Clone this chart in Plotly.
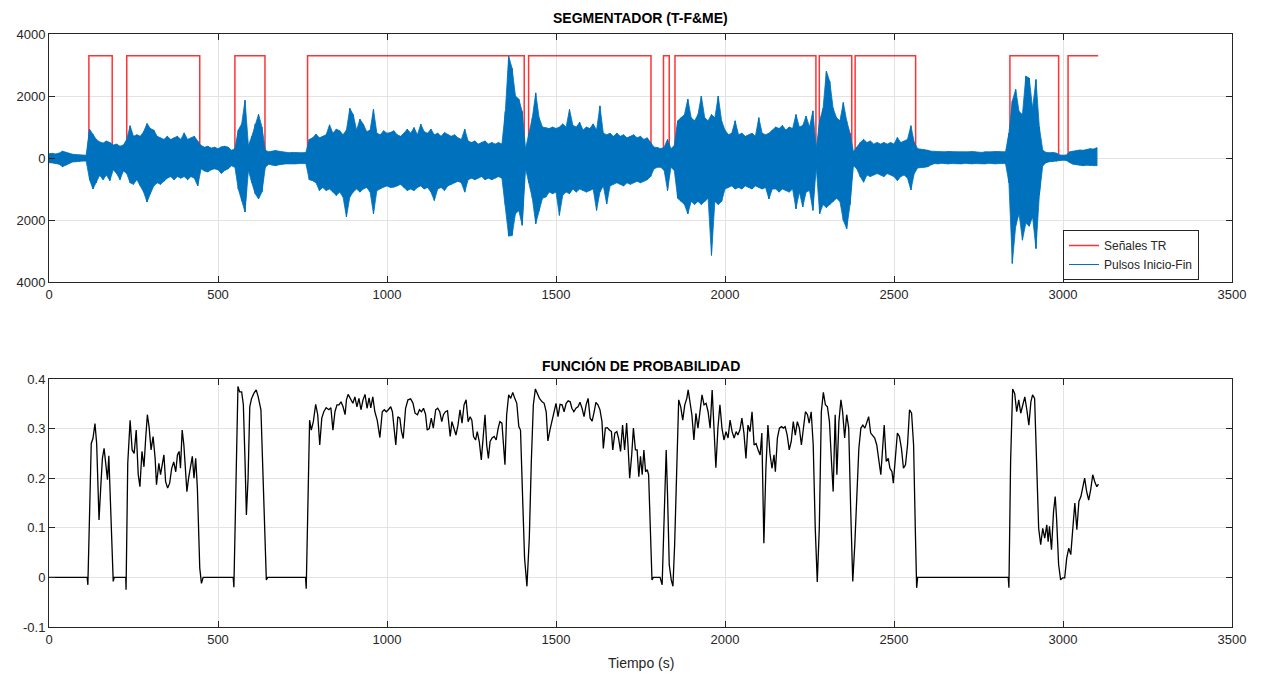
import plotly.graph_objects as go

# ---------------- data ----------------
# Red step signal "Señales TR": (time, level) break points, drawn as steps
red_t = [0, 118, 187, 230, 446, 550, 639, 765, 1406, 1419, 1781, 1818, 1835, 1852,
         2269, 2279, 2375, 2385, 2564, 2843, 2987, 3015, 3104]
red_v = [0, 3300, 0, 3300, 0, 3300, 0, 3300, 0, 3300, 0, 3300, 0, 3300,
         0, 3300, 0, 3300, 0, 3300, 0, 3300, 3300]

# Blue signal "Pulsos Inicio-Fin": upper / lower envelope read every 10 s (0..3100 s)
blue_t = list(range(0, 3101, 10))
blue_up = [
    140, 150, 130, 160, 220, 180, 140, 120, 110, 100,
    90, 90, 930, 770, 600, 520, 480, 550, 500, 420,
    450, 380, 420, 600, 1040, 700, 750, 700, 850, 1110,
    950, 900, 700, 650, 600, 700, 600, 650, 700, 600,
    810, 600, 650, 700, 550, 400, 350, 380, 320, 350,
    300, 360, 380, 350, 250, 300, 900, 1100, 1860, 400,
    700, 1100, 1410, 1000, 250, 200, 220, 240, 220, 200,
    180, 170, 180, 170, 160, 170, 180, 600, 650, 770,
    650, 700, 750, 1070, 800, 930, 880, 750, 900, 1600,
    1400, 900, 1250, 1090, 850, 900, 1570, 800, 750, 880,
    800, 820, 880, 750, 700, 800, 930, 800, 980, 750,
    1090, 850, 800, 930, 750, 800, 700, 820, 750, 700,
    750, 650, 600, 930, 550, 500, 550, 450, 500, 550,
    450, 500, 450, 500, 450, 1500, 3280, 2900, 2000, 1900,
    1500, 300, 800, 1300, 2100, 1300, 1000, 980, 950, 1000,
    950, 1000, 1100, 1000, 1570, 1050, 1000, 1150, 900, 1000,
    950, 1100, 900, 1680, 800, 750, 800, 700, 800, 700,
    750, 650, 700, 750, 650, 700, 600, 650, 500, 350,
    340, 300, 350, 600, 300, 400, 1200, 1300, 1400, 1900,
    1300, 1200, 1400, 2000, 1300, 1200, 1400, 1300, 2000, 1200,
    900, 750, 800, 1200, 750, 800, 700, 750, 800, 700,
    1300, 800, 750, 800, 900, 1000, 950, 1050, 900, 1000,
    950, 1400, 1000, 1050, 1350, 1000, 1520, 300, 1200, 1600,
    2800, 2470, 1600, 1300, 1200, 1790, 1200, 800, 200, 350,
    500, 600, 500, 550, 450, 500, 450, 500, 450, 500,
    450, 660, 500, 550, 600, 1040, 500, 300, 290, 280,
    250, 220, 210, 200, 190, 200, 210, 200, 190, 200,
    200, 190, 200, 210, 200, 190, 180, 200, 190, 200,
    210, 200, 190, 200, 800, 1840, 2215, 1500, 1400, 2640,
    2580, 1600, 2530, 1000, 250, 180, 170, 180, 160, 100,
    90, 100, 200, 220, 240, 260, 250, 280, 300, 290, 330,
]
blue_lo = [
    150, 160, 170, 200, 280, 230, 180, 130, 120, 110,
    100, 100, 700, 1000, 800, 560, 700, 550, 730, 380,
    500, 700, 420, 500, 800, 850, 700, 900, 1100, 1420,
    1150, 900, 800, 850, 750, 650, 600, 700, 600, 650,
    600, 700, 600, 650, 900, 350, 420, 450, 380, 350,
    380, 500, 400, 350, 250, 300, 1000, 1370, 1740, 400,
    800, 1150, 1320, 1100, 300, 200, 230, 250, 220, 200,
    190, 190, 180, 190, 180, 170, 180, 700, 730, 800,
    1050, 950, 1050, 1000, 1100, 1210, 1100, 1260, 1900, 1260,
    1100, 1000, 1100, 1000, 950, 1100, 1800, 1050, 1000, 940,
    900, 950, 940, 900, 850, 950, 1050, 1000, 1050, 950,
    900, 1000, 950, 1100, 1370, 1000, 950, 1050, 900, 850,
    800, 750, 800, 1100, 700, 650, 700, 650, 600, 700,
    650, 700, 650, 600, 650, 1500, 2520, 2500, 1800, 1700,
    2170, 350, 800, 1300, 2120, 1690, 1300, 1260, 1100, 1150,
    1100, 1850, 1200, 1100, 1150, 1000, 1100, 1000, 1050, 1100,
    1050, 1000, 1690, 1100, 900, 1480, 900, 850, 800, 850,
    900, 800, 850, 800, 750, 800, 750, 700, 600, 350,
    300, 300, 400, 1050, 300, 400, 1300, 1400, 1500, 1800,
    1400, 1500, 1400, 1500, 1400, 1300, 3140, 1400, 1500, 1400,
    1000, 950, 900, 1000, 950, 1000, 900, 950, 1000, 900,
    950, 1000, 950, 1320, 1000, 1000, 1100, 1000, 1050, 1100,
    1000, 1640, 1100, 1580, 1100, 1050, 1690, 300, 1800, 1500,
    1600, 1500, 1400, 1300, 1400, 2010, 2280, 1500, 250, 350,
    600, 780, 550, 600, 550, 500, 550, 600, 500, 550,
    600, 730, 600, 550, 650, 1030, 500, 320, 300, 300,
    280, 220, 180, 190, 170, 180, 190, 180, 170, 180,
    190, 170, 180, 190, 180, 170, 180, 190, 170, 180,
    190, 180, 170, 180, 800, 3400, 2200, 1800, 2650, 2100,
    2200, 1900, 2920, 1200, 250, 150, 120, 120, 110, 80,
    70, 80, 150, 200, 220, 230, 250, 230, 250, 240, 250,
]

# Black curve "FUNCIÓN DE PROBABILIDAD"
prob_t = [
    0, 113, 115, 125, 130, 136, 141, 148, 153, 158, 163, 168, 173, 177, 183, 190, 193,
    227, 228, 233, 240, 246, 252, 258, 264, 269, 275, 281, 286, 291, 296, 302, 308, 314,
    318, 325, 330, 335, 340, 345, 351, 357, 363, 369, 375, 380, 385, 389, 394, 399, 404,
    408, 413, 419, 424, 429, 434, 439, 446, 451, 456,
    545, 547, 559, 564, 570, 575, 580, 584, 589, 594, 599, 606, 613, 619, 627, 636, 643, 647,
    759, 761, 771, 776, 782, 789, 795, 801, 807, 813, 820, 828, 834, 840, 846, 852, 858, 864,
    870, 876, 880, 885, 892, 899, 905, 911, 917, 923, 929, 935, 941, 947, 952, 958, 964, 971,
    979, 986, 992, 998, 1004, 1011, 1016, 1021, 1026, 1032, 1038, 1043, 1048, 1055, 1062,
    1070, 1077, 1083, 1090, 1096, 1102, 1108, 1114, 1119, 1125, 1131, 1137, 1144, 1150, 1156,
    1162, 1167, 1173, 1179,
    1187, 1192, 1198, 1204, 1210, 1216, 1222, 1228, 1234, 1240, 1246, 1251, 1256, 1262, 1267,
    1273, 1279, 1285, 1290, 1295, 1300, 1305, 1311, 1317, 1323, 1329, 1334, 1340, 1344, 1349,
    1354, 1360, 1366, 1372, 1378, 1384, 1390, 1395, 1401, 1407, 1414, 1421, 1427, 1433, 1439,
    1445, 1451, 1459, 1465, 1471, 1476, 1482, 1488, 1494, 1500, 1506, 1512, 1518, 1524, 1530,
    1536, 1542, 1547, 1553, 1559, 1565, 1571, 1577, 1583, 1589, 1595, 1601, 1607, 1613, 1618,
    1624, 1630, 1636, 1640, 1646, 1652, 1658, 1664, 1668, 1674, 1680, 1685, 1691, 1697, 1703,
    1709, 1713, 1718, 1724, 1729, 1735, 1740, 1745, 1750, 1755, 1760, 1765, 1770, 1774, 1779,
    1784, 1788, 1808, 1814, 1820, 1826, 1830, 1835, 1841, 1846, 1851, 1857, 1863, 1869, 1875,
    1881, 1887, 1891, 1897, 1902, 1908, 1914, 1920, 1926, 1932, 1938, 1944, 1950, 1956, 1962,
    1968, 1973, 1979, 1985, 1991, 1997, 2003, 2009, 2015, 2021, 2027, 2033, 2038, 2044, 2050,
    2056, 2062, 2068, 2074, 2080, 2086, 2092, 2098, 2104, 2109, 2115, 2121, 2127, 2133, 2139,
    2145, 2149, 2155, 2161, 2167, 2173, 2178, 2184, 2190, 2196, 2202, 2208, 2214, 2220, 2226,
    2232, 2238, 2244, 2249, 2255, 2261, 2267, 2273, 2279, 2285, 2291, 2297, 2303, 2309, 2315,
    2320,
    2326, 2331, 2337, 2343, 2348, 2354, 2360, 2366, 2372, 2378, 2384, 2390, 2396, 2402, 2408,
    2414, 2419, 2425, 2431, 2437, 2443, 2449, 2455, 2461, 2467, 2471, 2477, 2483, 2488, 2494,
    2498, 2504, 2510, 2516, 2522, 2528, 2534, 2540, 2546, 2552, 2558, 2563, 2567, 2570,
    2838, 2840, 2845, 2851, 2857, 2863, 2869, 2875, 2881, 2887, 2893, 2899, 2905, 2910, 2916,
    2922, 2928, 2934, 2940, 2946, 2952, 2956, 2960, 2966, 2972, 2977, 2981, 2987, 2993, 2999,
    3005, 3011, 3017, 3023, 3029, 3035, 3041, 3047, 3053, 3058, 3064, 3070, 3076, 3082, 3088,
    3094, 3100, 3105,
]
prob_v = [
    0, 0, -0.015, 0.27, 0.28, 0.31, 0.27, 0.116, 0.18, 0.24, 0.26, 0.234, 0.197, 0.245, 0.12, -0.008, 0,
    0, -0.025, 0.23, 0.317, 0.257, 0.25, 0.297, 0.207, 0.183, 0.254, 0.223, 0.28, 0.328, 0.304, 0.257, 0.284, 0.24,
    0.187, 0.23, 0.207, 0.23, 0.247, 0.193, 0.18, 0.19, 0.22, 0.233, 0.213, 0.247, 0.254, 0.22, 0.297, 0.267, 0.21,
    0.173, 0.2, 0.227, 0.244, 0.2, 0.24, 0.18, 0.019, -0.012, 0,
    0, -0.02, 0.385, 0.374, 0.374, 0.348, 0.234, 0.126, 0.2, 0.344, 0.36, 0.371, 0.378, 0.364, 0.338, 0.133, -0.005, 0,
    0, -0.023, 0.317, 0.297, 0.314, 0.349, 0.328, 0.267, 0.321, 0.334, 0.342, 0.338, 0.342, 0.297, 0.334, 0.348, 0.348, 0.354,
    0.344, 0.328, 0.358, 0.369, 0.361, 0.351, 0.364, 0.344, 0.361, 0.338, 0.358, 0.369, 0.341, 0.362, 0.342, 0.364, 0.334, 0.317,
    0.282, 0.334, 0.338, 0.334, 0.338, 0.344, 0.334, 0.3, 0.267, 0.324, 0.321, 0.294, 0.28, 0.341, 0.358,
    0.36, 0.351, 0.331, 0.328, 0.338, 0.334, 0.341, 0.329, 0.297, 0.3, 0.321, 0.301, 0.338, 0.341, 0.334,
    0.314, 0.328, 0.334, 0.336,
    0.284, 0.314, 0.301, 0.287, 0.307, 0.338, 0.311, 0.348, 0.358, 0.314, 0.324, 0.317, 0.284, 0.277, 0.294,
    0.274, 0.237, 0.294, 0.328, 0.267, 0.24, 0.274, 0.281, 0.284, 0.277, 0.301, 0.314, 0.311, 0.267, 0.227,
    0.328, 0.368, 0.361, 0.373, 0.361, 0.351, 0.304, 0.297, 0.166, 0.039, -0.018, 0.079, 0.234, 0.348, 0.38,
    0.371, 0.361, 0.354, 0.351, 0.334, 0.275, 0.297, 0.314, 0.331, 0.351, 0.324, 0.349, 0.348, 0.334, 0.351,
    0.356, 0.354, 0.341, 0.334, 0.341, 0.344, 0.353, 0.341, 0.324, 0.348, 0.361, 0.321, 0.315, 0.334, 0.353,
    0.348, 0.338, 0.314, 0.26, 0.301, 0.302, 0.297, 0.294, 0.257, 0.291, 0.294, 0.281, 0.254, 0.307, 0.257,
    0.311, 0.267, 0.2, 0.247, 0.301, 0.257, 0.257, 0.203, 0.244, 0.207, 0.257, 0.213, 0.217, 0.207, 0.099,
    -0.005, 0, 0, -0.015, 0.119, 0.257, 0.166, 0.026, -0.005, -0.018, 0.066, 0.234, 0.358, 0.344, 0.317,
    0.348, 0.361, 0.378, 0.348, 0.328, 0.277, 0.331, 0.301, 0.334, 0.368, 0.348, 0.351, 0.334, 0.301, 0.378,
    0.294, 0.221, 0.301, 0.348, 0.301, 0.277, 0.294, 0.281, 0.317, 0.294, 0.281, 0.294, 0.287, 0.297, 0.321,
    0.291, 0.24, 0.307, 0.294, 0.334, 0.267, 0.27, 0.257, 0.247, 0.291, 0.069, 0.22, 0.307, 0.25, 0.22,
    0.247, 0.213, 0.281, 0.301, 0.304, 0.301, 0.304, 0.287, 0.257, 0.274, 0.314, 0.287, 0.314, 0.301, 0.267,
    0.304, 0.334, 0.328, 0.311, 0.334, 0.267, 0.099, -0.009, 0.099, 0.334, 0.373, 0.348, 0.344, 0.314, 0.234,
    0.173,
    0.328, 0.207, 0.314, 0.358, 0.334, 0.281, 0.328, 0.301, 0.133, -0.008, 0.066, 0.16, 0.26, 0.301, 0.307,
    0.301, 0.314, 0.324, 0.291, 0.287, 0.281, 0.267, 0.24, 0.207, 0.267, 0.307, 0.234, 0.24, 0.22, 0.213,
    0.19, 0.234, 0.291, 0.284, 0.26, 0.22, 0.227, 0.267, 0.338, 0.331, 0.267, 0.099, -0.021, 0,
    0, -0.021, 0.234, 0.38, 0.371, 0.334, 0.358, 0.331, 0.348, 0.364, 0.338, 0.307, 0.354, 0.368, 0.361,
    0.234, 0.099, 0.066, 0.099, 0.079, 0.106, 0.072, 0.103, 0.056, 0.133, 0.163, 0.119, 0.026, -0.005, -0.001,
    -0.001, 0.039, 0.059, 0.046, 0.099, 0.15, 0.096, 0.153, 0.163, 0.18, 0.2, 0.173, 0.156, 0.177, 0.207,
    0.193, 0.183, 0.188,
]

x_ticks = [0, 500, 1000, 1500, 2000, 2500, 3000, 3500]
x_ticktext = ["0", "500", "1000", "1500", "2000", "2500", "3000", "3500"]
y1_ticks = [-4000, -2000, 0, 2000, 4000]
y1_ticktext = ["4000", "2000", "0", "2000", "4000"]  # minus signs are cut off in the original
y2_ticks = [-0.1, 0, 0.1, 0.2, 0.3, 0.4]
y2_ticktext = ["-0.1", "0", "0.1", "0.2", "0.3", "0.4"]

# ---------------- figure ----------------
W, H = 1263, 675
px_x = lambda p: p / W
px_y = lambda p: 1 - p / H

BLUE = "#0072BD"

# envelope band (upper edge forward, lower edge backward)
band_x = blue_t + blue_t[::-1]
band_y = blue_up + [-v for v in blue_lo[::-1]]

# zig-zag trace through the envelope samples (gives the oscillating texture)
bx, by = [], []
for t, u, l in zip(blue_t, blue_up, blue_lo):
    bx += [t, t]
    by += [u, -l]

fig = go.Figure()
fig.add_trace(go.Scatter(x=red_t, y=red_v, mode="lines", line_shape="hv",
                         line=dict(color="rgba(255,0,0,0.8)", width=1.5),
                         name="Señales TR", xaxis="x", yaxis="y"))
fig.add_trace(go.Scatter(x=band_x, y=band_y, mode="lines", fill="toself",
                         fillcolor=BLUE, line=dict(color=BLUE, width=0.8),
                         showlegend=False, hoverinfo="skip", xaxis="x", yaxis="y"))
fig.add_trace(go.Scatter(x=bx, y=by, mode="lines",
                         line=dict(color=BLUE, width=1),
                         name="Pulsos Inicio-Fin", xaxis="x", yaxis="y"))
fig.add_trace(go.Scatter(x=prob_t, y=prob_v, mode="lines",
                         line=dict(color="#000000", width=1.3),
                         showlegend=False, xaxis="x2", yaxis="y2"))

font_family = "Liberation Sans, Arial, Helvetica, sans-serif"
axis_common = dict(showgrid=True, gridcolor="#e3e3e3", gridwidth=1, zeroline=False,
                   showline=True, linecolor="#262626", linewidth=1, mirror="ticks",
                   ticks="inside", ticklen=6, tickcolor="#262626",
                   tickfont=dict(family=font_family, size=13, color="#262626"),
                   automargin=False)

fig.update_layout(
    width=W, height=H,
    margin=dict(l=0, r=0, t=0, b=0),
    paper_bgcolor="white", plot_bgcolor="white",
    font=dict(family=font_family, color="#262626"),
    xaxis=dict(domain=[px_x(49), px_x(1232)], range=[0, 3500], anchor="y",
               tickvals=x_ticks, ticktext=x_ticktext, **axis_common),
    yaxis=dict(domain=[px_y(282), px_y(34)], range=[-4000, 4000], anchor="x",
               tickvals=y1_ticks, ticktext=y1_ticktext, **axis_common),
    xaxis2=dict(domain=[px_x(49), px_x(1232)], range=[0, 3500], anchor="y2",
                tickvals=x_ticks, ticktext=x_ticktext, **axis_common),
    yaxis2=dict(domain=[px_y(627), px_y(379)], range=[-0.1, 0.4], anchor="x2",
                tickvals=y2_ticks, ticktext=y2_ticktext, **axis_common),
    legend=dict(x=px_x(1063), y=px_y(230), xanchor="left", yanchor="top",
                bgcolor="white", bordercolor="#262626", borderwidth=1,
                font=dict(family=font_family, size=12, color="#262626"),
                tracegroupgap=0, itemwidth=30),
    showlegend=True,
    annotations=[
        dict(text="<b>SEGMENTADOR (T-F&ME)</b>", x=px_x(640.5), y=px_y(18),
             xref="paper", yref="paper", showarrow=False, xanchor="center", yanchor="middle",
             font=dict(family=font_family, size=14, color="#000000")),
        dict(text="<b>FUNCIÓN DE PROBABILIDAD</b>", x=px_x(640.5), y=px_y(365),
             xref="paper", yref="paper", showarrow=False, xanchor="center", yanchor="middle",
             font=dict(family=font_family, size=14, color="#000000")),
        dict(text="Tiempo (s)", x=px_x(640.5), y=px_y(663),
             xref="paper", yref="paper", showarrow=False, xanchor="center", yanchor="middle",
             font=dict(family=font_family, size=14, color="#262626")),
    ],
)

fig.write_html("out.html")
